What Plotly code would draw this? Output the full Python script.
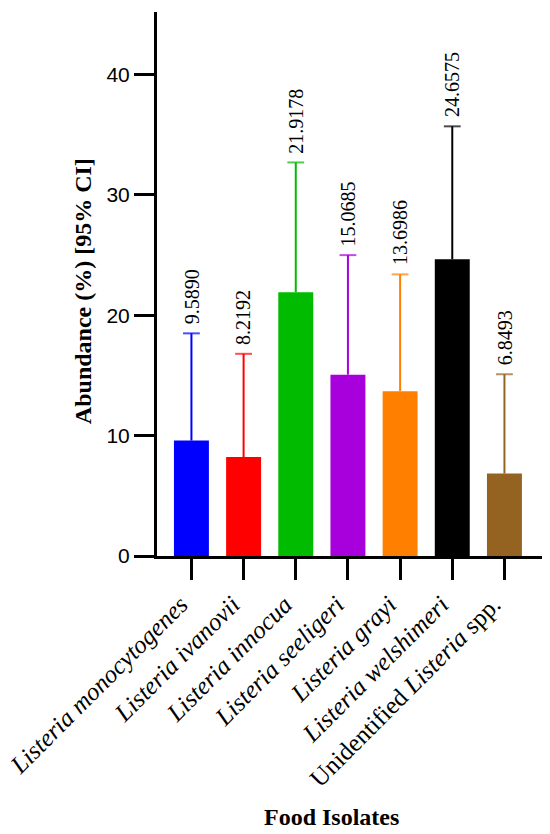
import plotly.graph_objects as go

species = ["Listeria monocytogenes", "Listeria ivanovii", "Listeria innocua",
           "Listeria seeligeri", "Listeria grayi", "Listeria welshimeri",
           "Unidentified Listeria spp."]
tick_text = ["<i>Listeria monocytogenes</i>", "<i>Listeria ivanovii</i>",
             "<i>Listeria innocua</i>", "<i>Listeria seeligeri</i>",
             "<i>Listeria grayi</i>", "<i>Listeria welshimeri</i>",
             "Unidentified <i>Listeria</i> spp."]
abundance = [9.5890, 8.2192, 21.9178, 15.0685, 13.6986, 24.6575, 6.8493]
ci_upper = [18.5, 16.8, 32.7, 25.0, 23.4, 35.7, 15.1]
colors = ["#0000FF", "#FF0000", "#00BB00", "#A800DC", "#FF8000", "#000000", "#956321"]

fig = go.Figure()
for i, name in enumerate(species):
    fig.add_trace(go.Bar(
        x=[i], y=[abundance[i]], name=name,
        marker=dict(color=colors[i], line=dict(width=0)),
        width=0.67, showlegend=False,
    ))
    # upper CI whisker only (no cap at the bar top)
    fig.add_trace(go.Scatter(
        x=[i, i], y=[abundance[i], ci_upper[i]], mode="lines+markers",
        line=dict(color=colors[i], width=2),
        marker=dict(symbol="line-ew", size=[0, 12], color=colors[i],
                    line=dict(color=colors[i], width=2)),
        showlegend=False, hoverinfo="skip",
    ))
    # value label above the CI cap
    fig.add_annotation(x=i, y=ci_upper[i], text="%.4f" % abundance[i],
                       textangle=-90, showarrow=False, xanchor="center",
                       yanchor="bottom", yshift=7,
                       font=dict(family="Liberation Sans Narrow, Arial Narrow", size=20, color="black"))

fig.add_annotation(x=0.452, y=-0.48, xref="paper", yref="paper",
                   xanchor="center", yanchor="middle",
                   text="<b>Food Isolates</b>", showarrow=False,
                   font=dict(family="Liberation Serif, Times New Roman", size=24, color="black"))
fig.add_annotation(x=-0.192, y=0.487, xref="paper", yref="paper",
                   xanchor="center", yanchor="middle",
                   text="<b>Abundance (%) [95% CI]</b>", textangle=-90, showarrow=False,
                   font=dict(family="Liberation Serif, Times New Roman", size=24, color="black"))

# page body adds an 8px margin, so the figure is 8px smaller and shifted
fig.update_layout(
    width=542, height=826,
    margin=dict(l=149, r=8, t=4, b=278),
    plot_bgcolor="white", paper_bgcolor="white",
    xaxis=dict(range=[-0.66, 6.72], tickvals=list(range(len(species))), ticktext=tick_text,
               tickangle=-45, ticks="outside", ticklen=21, tickwidth=3, tickcolor="black",
               ticklabelshift=-11, ticklabeloverflow="allow",
               showline=True, linewidth=3, linecolor="black", showgrid=False,
               zeroline=False, automargin=False,
               tickfont=dict(family="Liberation Serif, Times New Roman", size=25, color="black")),
    yaxis=dict(range=[0, 45.2], tickvals=[0, 10, 20, 30, 40], ticks="outside",
               ticklen=20, tickwidth=3, tickcolor="black",
               showline=True, linewidth=3, linecolor="black", showgrid=False,
               zeroline=False, automargin=False,
               tickfont=dict(family="Liberation Sans, Arial", size=21, color="black")),
)

fig.write_html("out.html")
